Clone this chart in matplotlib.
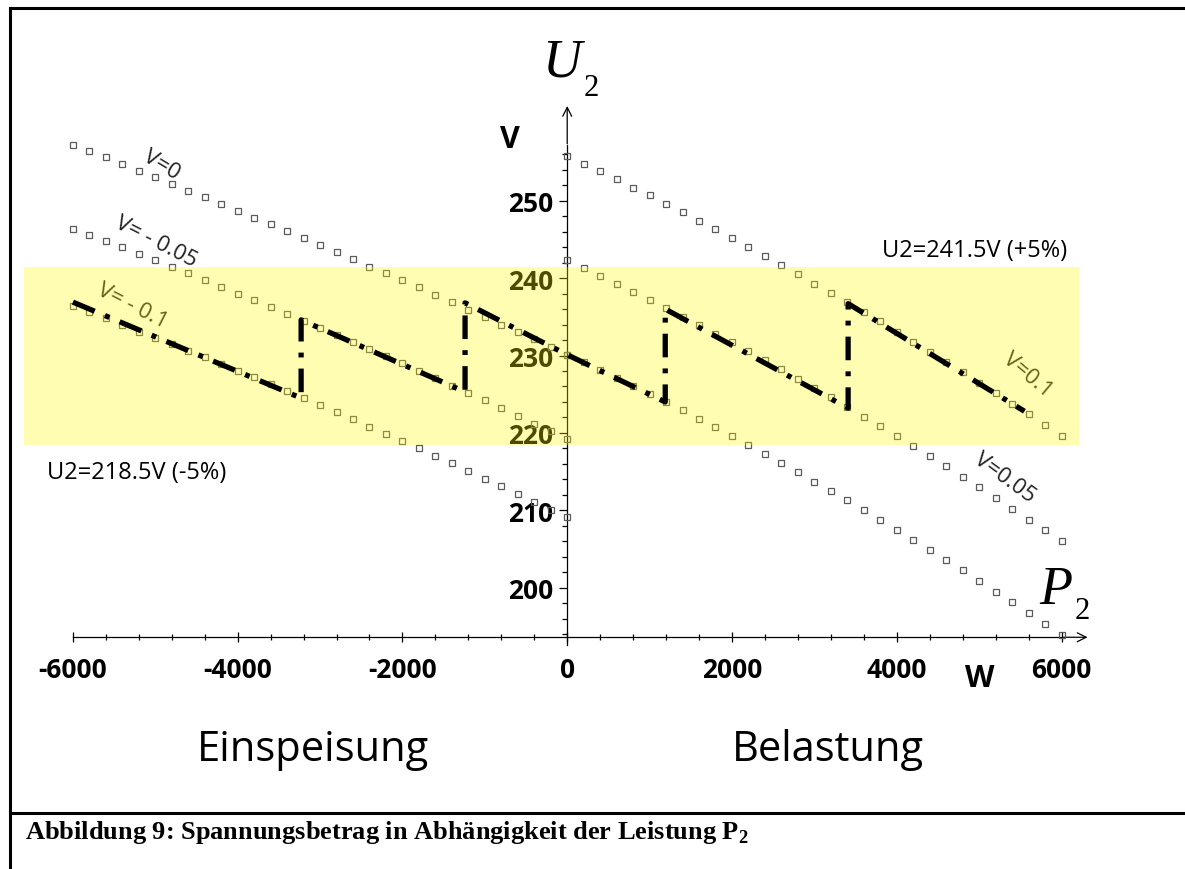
import numpy as np
import matplotlib.pyplot as plt
from matplotlib.lines import Line2D

plt.rcParams['lines.scale_dashes'] = False
plt.rcParams['mathtext.fontset'] = 'custom'
plt.rcParams['mathtext.bf'] = 'Liberation Serif:bold'

# P2 in W, one point every 200 W
p_left = np.arange(-6000, 1, 200)
p_right = np.arange(0, 6001, 200)

# U2 in V
u_v0_left = [257.2, 256.4, 255.6, 254.7, 253.9, 253.0, 252.2, 251.3, 250.5, 249.6, 248.7,
             247.8, 247.0, 246.1, 245.2, 244.3, 243.4, 242.5, 241.5, 240.6, 239.7,
             238.8, 237.8, 236.9, 235.9, 235.0, 234.0, 233.0, 232.1, 231.1, 230.1]
u_vm005_left = [246.4, 245.6, 244.8, 244.0, 243.1, 242.3, 241.5, 240.6, 239.8, 238.9, 238.0,
                237.2, 236.3, 235.4, 234.5, 233.6, 232.7, 231.8, 230.8, 229.9, 229.0,
                228.0, 227.1, 226.1, 225.1, 224.2, 223.2, 222.2, 221.2, 220.2, 219.2]
u_vm01_left = [236.4, 235.6, 234.8, 234.0, 233.1, 232.3, 231.5, 230.6, 229.8, 228.9, 228.0,
               227.2, 226.3, 225.4, 224.5, 223.6, 222.7, 221.8, 220.8, 219.9, 218.9,
               218.0, 217.0, 216.1, 215.1, 214.1, 213.1, 212.1, 211.1, 210.1, 209.1]
u_v01_right = [255.8, 254.8, 253.8, 252.8, 251.7, 250.7, 249.6, 248.5, 247.4, 246.3, 245.2,
               244.0, 242.9, 241.7, 240.5, 239.3, 238.1, 236.9, 235.6, 234.4, 233.1,
               231.8, 230.5, 229.2, 227.9, 226.5, 225.2, 223.8, 222.4, 221.0, 219.6]
u_v005_right = [242.3, 241.3, 240.3, 239.3, 238.2, 237.2, 236.1, 235.0, 233.9, 232.8, 231.7,
                230.6, 229.4, 228.2, 227.0, 225.8, 224.6, 223.4, 222.1, 220.9, 219.6,
                218.3, 217.0, 215.7, 214.3, 213.0, 211.6, 210.2, 208.8, 207.4, 206.0]
u_v0_right = [230.1, 229.1, 228.1, 227.1, 226.1, 225.0, 224.0, 222.9, 221.8, 220.7, 219.6,
              218.4, 217.3, 216.1, 214.9, 213.7, 212.5, 211.3, 210.0, 208.8, 207.5,
              206.2, 204.9, 203.6, 202.3, 200.9, 199.5, 198.1, 196.7, 195.3, 193.9]

# stepped path of the regulated voltage
p_path = [-6000, -3230, -3230, -1240, -1240, 0, 1190, 1190, 3410, 3410, 5550]
u_path = [236.9, 224.5, 234.6, 225.3, 236.8, 230.1, 224.0, 236.0, 223.2, 236.7, 222.8]

u_low, u_high = 218.5, 241.5
xticks = [-6000, -4000, -2000, 0, 2000, 4000, 6000]
xticklabels = ['-6000', '-4000', '-2000', '0', '2000', '4000', '6000']
yticks = [200, 210, 220, 230, 240, 250]

sans = 'Open Sans'
serif = 'Liberation Serif'

fig = plt.figure(figsize=(11.85, 8.7), dpi=100)
ax = fig.add_axes([0, 0, 1, 1])
ax.set_xlim(-6885, 7499)
ax.set_ylim(163.66, 276.06)
ax.patch.set_visible(False)

mk = dict(ls='none', marker='s', ms=3.8, mfc='none', mec='#5a5a5a', mew=0.9, zorder=2)
for p, u in [(p_left, u_v0_left), (p_left, u_vm005_left), (p_left, u_vm01_left),
             (p_right, u_v01_right), (p_right, u_v005_right), (p_right, u_v0_right)]:
    ax.plot(p, u, **mk)

# tolerance band +-5 %
ax.fill_between([-6590, 6210], u_low, u_high, color=(1, 0.98, 0), alpha=0.3, lw=0, zorder=3)

ax.plot(p_path, u_path, color='black', lw=3.8, dashes=[17, 8, 3.5, 8], zorder=4)

# axes through the origin
for s in ['top', 'right']:
    ax.spines[s].set_visible(False)
ax.spines['left'].set_position(('data', 0))
ax.spines['bottom'].set_position(('data', 193.6))
ax.spines['left'].set_bounds(192.6, 257.2)
ax.spines['bottom'].set_bounds(-6000, 6000)
for s in ['left', 'bottom']:
    ax.spines[s].set_linewidth(0.9)
    ax.spines[s].set_zorder(1)
ax.set_axisbelow(True)
ax.annotate('', xy=(6350, 193.6), xytext=(5990, 193.6),
            arrowprops=dict(arrowstyle='->', lw=0.9, mutation_scale=16), zorder=1)
ax.annotate('', xy=(0, 262.6), xytext=(0, 257.0),
            arrowprops=dict(arrowstyle='->', lw=0.9, mutation_scale=16), zorder=1)

ax.set_xticks(xticks)
ax.set_xticklabels(xticklabels)
ax.set_xticks(np.arange(-6000, 6001, 400), minor=True)
ax.set_yticks(yticks)
ax.set_yticks(np.arange(194, 257, 2), minor=True)
ax.tick_params(axis='x', which='major', direction='inout', length=7, width=0.9, pad=10)
ax.tick_params(axis='x', which='minor', direction='inout', length=5, width=0.9)
ax.tick_params(axis='y', which='major', direction='out', length=6, width=0.9, pad=4)
ax.tick_params(axis='y', which='minor', direction='out', length=3.5, width=0.9)
for lab in ax.get_xticklabels() + ax.get_yticklabels():
    lab.set_fontfamily(sans)
    lab.set_fontweight('bold')
    lab.set_fontsize(19)

# axis titles
ax.text(-63, 267.9, 'U', family=serif, style='italic', fontsize=39, ha='center', va='center')
ax.text(290, 264.6, '2', family=serif, fontsize=22, ha='center', va='center')
ax.text(5934, 199.8, 'P', family=serif, style='italic', fontsize=39, ha='center', va='center')
ax.text(6250, 197.0, '2', family=serif, fontsize=22, ha='center', va='center')
ax.text(-695, 258.0, 'V', family=sans, weight='bold', fontsize=22, ha='center', va='center')
ax.text(5010, 188.4, 'W', family=sans, weight='bold', fontsize=22, ha='center', va='center')

# curve labels
lab = dict(family=sans, fontsize=16, color='#222222', ha='center', va='center',
           rotation_mode='anchor', zorder=2)
ax.text(-4921, 254.7, 'V=0', rotation=-31, **lab)
ax.text(-4992, 244.8, 'V= - 0.05', rotation=-27, **lab)
ax.text(-5280, 236.5, 'V= - 0.1', rotation=-27, **lab)
ax.text(5582, 227.6, 'V=0.1', rotation=-40, **lab)
ax.text(5303, 214.3, 'V=0.05', rotation=-36, **lab)

ax.text(4950, 243.6, 'U2=241.5V (+5%)', family=sans, fontsize=17, ha='center', va='center')
ax.text(-5223, 215.0, 'U2=218.5V (-5%)', family=sans, fontsize=17, ha='center', va='center')
ax.text(-3086, 179.1, 'Einspeisung', family=sans, fontsize=30, ha='center', va='center')
ax.text(3165, 179.1, 'Belastung', family=sans, fontsize=30, ha='center', va='center')

# frame and caption
H = 870.0
fig.add_artist(Line2D([10 / 1185, 10 / 1185], [0, 1 - 9 / H], color='black', lw=2.2))
fig.add_artist(Line2D([10 / 1185, 1], [1 - 9 / H, 1 - 9 / H], color='black', lw=2.2))
fig.add_artist(Line2D([10 / 1185, 1], [1 - 814 / H, 1 - 814 / H], color='black', lw=2.2))
fig.text(25 / 1185, 1 - 833 / H,
         r'Abbildung 9: Spannungsbetrag in Abhängigkeit der Leistung P$_{\mathbf{2}}$',
         family=serif, weight='bold', fontsize=19, ha='left', va='center')

fig.savefig('out.png', dpi=100)
